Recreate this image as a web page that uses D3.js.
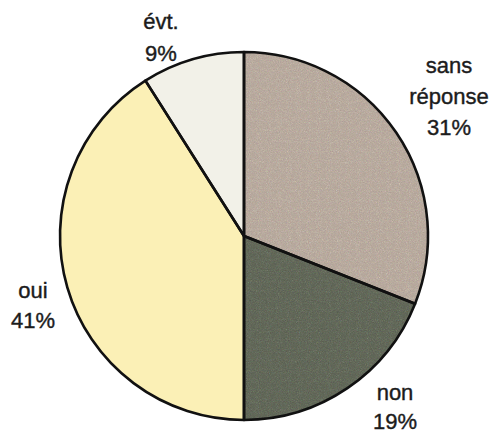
<!DOCTYPE html>
<html><head><meta charset="utf-8">
<script src="https://cdn.jsdelivr.net/npm/d3@7"></script>
<style>html,body{margin:0;padding:0;background:#fff;}svg{display:block;}</style>
</head><body>
<script>
const categories = ["sans réponse", "non", "oui", "évt."];
const values = [31, 19, 41, 9];
const labelLines = [["sans", "réponse", "31%"], ["non", "19%"], ["oui", "41%"], ["évt.", "9%"]];
const colors = ["#c8baae", "#727869", "#fbf0b6", "#f2f1e8"];

const W = 496, H = 435;
const cx = 244, cy = 236, R = 184;
// label anchor (center x, first baseline y) per category, layout only
const labelPos = [[449, 73], [395, 400], [33, 298], [161, 29]];
const lineH = [31, 29, 30, 32];

const svg = d3.select("body").append("svg").attr("width", W).attr("height", H);

const defs = svg.append("defs");
const f = defs.append("filter").attr("id", "grain").attr("x", 0).attr("y", 0).attr("width", 1).attr("height", 1)
  .attr("color-interpolation-filters", "sRGB");
f.append("feTurbulence").attr("type", "fractalNoise").attr("baseFrequency", 0.9).attr("numOctaves", 2).attr("seed", 4).attr("result", "n");
f.append("feColorMatrix").attr("in", "n").attr("type", "saturate").attr("values", 0.6).attr("result", "g");
f.append("feComposite").attr("in", "SourceGraphic").attr("in2", "g").attr("operator", "arithmetic")
  .attr("k1", 0).attr("k2", 1).attr("k3", 0.3).attr("k4", -0.15).attr("result", "m");
f.append("feComposite").attr("in", "m").attr("in2", "SourceGraphic").attr("operator", "in");

const pie = d3.pie().sort(null).value(d => d)(values);
const arc = d3.arc().innerRadius(0).outerRadius(R);

const g = svg.append("g").attr("transform", `translate(${cx},${cy})`);
g.selectAll("path.s").data(pie).enter().append("path")
  .attr("class", "s")
  .attr("d", arc)
  .attr("fill", (d, i) => colors[i])
  .attr("filter", (d, i) => i < 2 ? "url(#grain)" : null);

// outlines
g.selectAll("path.o").data(pie).enter().append("path")
  .attr("class", "o")
  .attr("d", arc)
  .attr("fill", "none")
  .attr("stroke", "#111")
  .attr("stroke-width", 2.6)
  .attr("stroke-linejoin", "round");

// labels
labelLines.forEach((lines, i) => {
  const t = svg.append("text")
    .attr("text-anchor", "middle")
    .attr("font-family", "Liberation Sans, Arial, sans-serif")
    .attr("font-size", 22)
    .attr("fill", "#1c1c1c")
    .attr("stroke", "#1c1c1c").attr("stroke-width", 0.4);
  lines.forEach((ln, j) => {
    t.append("tspan").attr("x", labelPos[i][0]).attr("y", labelPos[i][1] + j * lineH[i]).text(ln);
  });
});
</script>
</body></html>
